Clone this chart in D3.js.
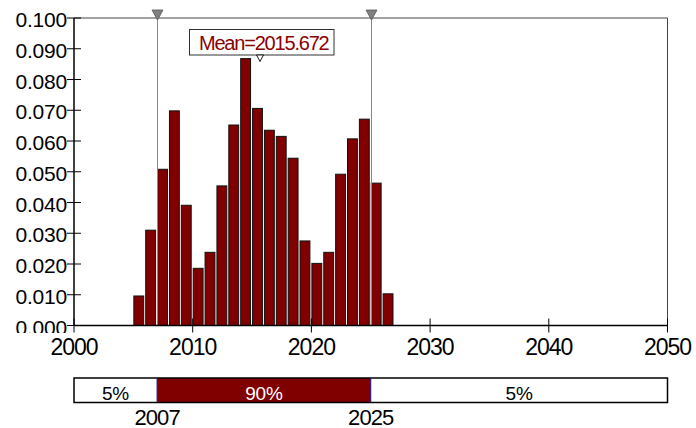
<!DOCTYPE html>
<html>
<head>
<meta charset="utf-8">
<script src="https://cdn.jsdelivr.net/npm/d3@7"></script>
<style>
  html, body { margin: 0; padding: 0; background: #fff; }
  svg { display: block; font-family: "Liberation Sans", Arial, sans-serif; }
</style>
</head>
<body>
<svg id="chart" width="696" height="428"></svg>
<script>
// ---- data ----
const binStarts = [2005, 2006, 2007, 2008, 2009, 2010, 2011, 2012, 2013, 2014, 2015,
                   2016, 2017, 2018, 2019, 2020, 2021, 2022, 2023, 2024, 2025, 2026];
const probabilities = [0.0096, 0.0310, 0.0508, 0.0698, 0.0391, 0.0186, 0.0238, 0.0454,
                       0.0652, 0.0868, 0.0706, 0.0635, 0.0615, 0.0544, 0.0275, 0.0202,
                       0.0238, 0.0492, 0.0607, 0.0671, 0.0463, 0.0103];
const binWidth = 1;
const yTicks = [0.000, 0.010, 0.020, 0.030, 0.040, 0.050, 0.060, 0.070, 0.080, 0.090, 0.100];
const xTicks = [2000, 2010, 2020, 2030, 2040, 2050];
const meanValue = 2015.672;
const meanLabel = "Mean=2015.672";
const lowerBound = 2007;
const upperBound = 2025;
const bandLabels = ["5%", "90%", "5%"];
const boundLabels = ["2007", "2025"];

// ---- layout ----
const svg = d3.select("#chart");
const x = d3.scaleLinear().domain([2000, 2050]).range([74, 667.5]);
const y = d3.scaleLinear().domain([0, 0.1]).range([325.5, 18]);
const barColor = "#800000";

// clip for y labels (bottom label is cut in the reference)
svg.append("defs").append("clipPath").attr("id", "yclip")
  .append("rect").attr("x", 0).attr("y", 0).attr("width", 74).attr("height", 333);

// bars
svg.append("g").selectAll("rect")
  .data(binStarts)
  .join("rect")
  .attr("x", (d) => x(d) + 0.5)
  .attr("width", (d) => x(d + binWidth) - x(d) - 2)
  .attr("y", (d, i) => y(probabilities[i]))
  .attr("height", (d, i) => y(0) - y(probabilities[i]))
  .attr("fill", barColor)
  .attr("stroke", "#111")
  .attr("stroke-width", 1);

// frame: top and right
svg.append("line").attr("x1", x(2000)).attr("x2", x(2050)).attr("y1", y(0.1)).attr("y2", y(0.1))
  .attr("stroke", "#444").attr("stroke-width", 1);
svg.append("line").attr("x1", x(2050)).attr("x2", x(2050)).attr("y1", y(0.1)).attr("y2", y(0))
  .attr("stroke", "#444").attr("stroke-width", 1);

// percentile lines & markers
[lowerBound, upperBound].forEach((v) => {
  const px = Math.round(x(v)) + 0.5;
  svg.append("line").attr("x1", px).attr("x2", px).attr("y1", y(0.1) - 8).attr("y2", y(0))
    .attr("stroke", "#888").attr("stroke-width", 1);
  svg.append("path")
    .attr("d", `M${px - 5.5},${10} L${px + 5.5},${10} L${px},${20} Z`)
    .attr("fill", "#808080").attr("stroke", "#555").attr("stroke-width", 0.8);
});

// axes
const yAxis = svg.append("g");
yAxis.append("line").attr("x1", x(2000)).attr("x2", x(2000)).attr("y1", y(0.1)).attr("y2", y(0))
  .attr("stroke", "#000").attr("stroke-width", 1.5);
yAxis.selectAll("line.tick").data(yTicks).join("line").attr("class", "tick")
  .attr("x1", x(2000) - 7).attr("x2", x(2000) + 7)
  .attr("y1", (d) => y(d)).attr("y2", (d) => y(d))
  .attr("stroke", "#000").attr("stroke-width", 1);
yAxis.append("g").attr("clip-path", "url(#yclip)")
  .selectAll("text").data(yTicks).join("text")
  .attr("x", 67).attr("y", (d) => y(d) + 9)
  .attr("text-anchor", "end")
  .attr("font-size", 21).attr("letter-spacing", "-0.2px")
  .attr("fill", "#000")
  .text((d) => d3.format(".3f")(d));

const xAxis = svg.append("g");
xAxis.append("line").attr("x1", x(2000)).attr("x2", x(2050)).attr("y1", y(0)).attr("y2", y(0))
  .attr("stroke", "#000").attr("stroke-width", 1.5);
xAxis.selectAll("line.tick").data(xTicks).join("line").attr("class", "tick")
  .attr("x1", (d) => x(d)).attr("x2", (d) => x(d))
  .attr("y1", y(0) - 7).attr("y2", y(0) + 7)
  .attr("stroke", "#000").attr("stroke-width", 1);
xAxis.selectAll("text").data(xTicks).join("text")
  .attr("x", (d) => x(d)).attr("y", 355)
  .attr("text-anchor", "middle")
  .attr("font-size", 23).attr("letter-spacing", "-1px")
  .attr("fill", "#000")
  .text((d) => d);

// mean label
const mx = x(meanValue);
svg.append("rect").attr("x", 189.5).attr("y", 29.5).attr("width", 144.5).attr("height", 25.5)
  .attr("fill", "#fff").attr("stroke", "#333").attr("stroke-width", 1);
svg.append("text").attr("x", (189.5 + 334) / 2 + 2).attr("y", 49.5)
  .attr("text-anchor", "middle")
  .attr("font-size", 20).attr("letter-spacing", "-1.2px")
  .attr("fill", "#8b0000")
  .text(meanLabel);
svg.append("path")
  .attr("d", `M${mx - 3.5},55 L${mx + 3.5},55 L${mx},61.5 Z`)
  .attr("fill", "#fff").attr("stroke", "#000").attr("stroke-width", 0.9);

// bottom range bar
const by0 = 378, by1 = 402.5;
svg.append("rect").attr("x", x(lowerBound)).attr("y", by0).attr("width", x(upperBound) - x(lowerBound))
  .attr("height", by1 - by0).attr("fill", barColor);
svg.append("rect").attr("x", x(2000)).attr("y", by0).attr("width", x(2050) - x(2000))
  .attr("height", by1 - by0).attr("fill", "none").attr("stroke", "#000").attr("stroke-width", 1.5);
[lowerBound, upperBound].forEach((v) => {
  svg.append("line").attr("x1", x(v)).attr("x2", x(v)).attr("y1", by0).attr("y2", by1)
    .attr("stroke", "#1a1a8a").attr("stroke-width", 1);
});
const bandCenters = [
  (x(2000) + x(lowerBound)) / 2,
  (x(lowerBound) + x(upperBound)) / 2,
  (x(upperBound) + x(2050)) / 2
];
svg.append("g").selectAll("text").data(bandLabels).join("text")
  .attr("x", (d, i) => bandCenters[i]).attr("y", 400)
  .attr("text-anchor", "middle")
  .attr("font-size", 19).attr("letter-spacing", "-0.2px")
  .attr("fill", (d, i) => (i === 1 ? "#fff" : "#000"))
  .text((d) => d);
svg.append("g").selectAll("text").data(boundLabels).join("text")
  .attr("x", (d, i) => x([lowerBound, upperBound][i])).attr("y", 424.5)
  .attr("text-anchor", "middle")
  .attr("font-size", 22).attr("letter-spacing", "-0.9px")
  .attr("fill", "#000")
  .text((d) => d);
</script>
</body>
</html>
